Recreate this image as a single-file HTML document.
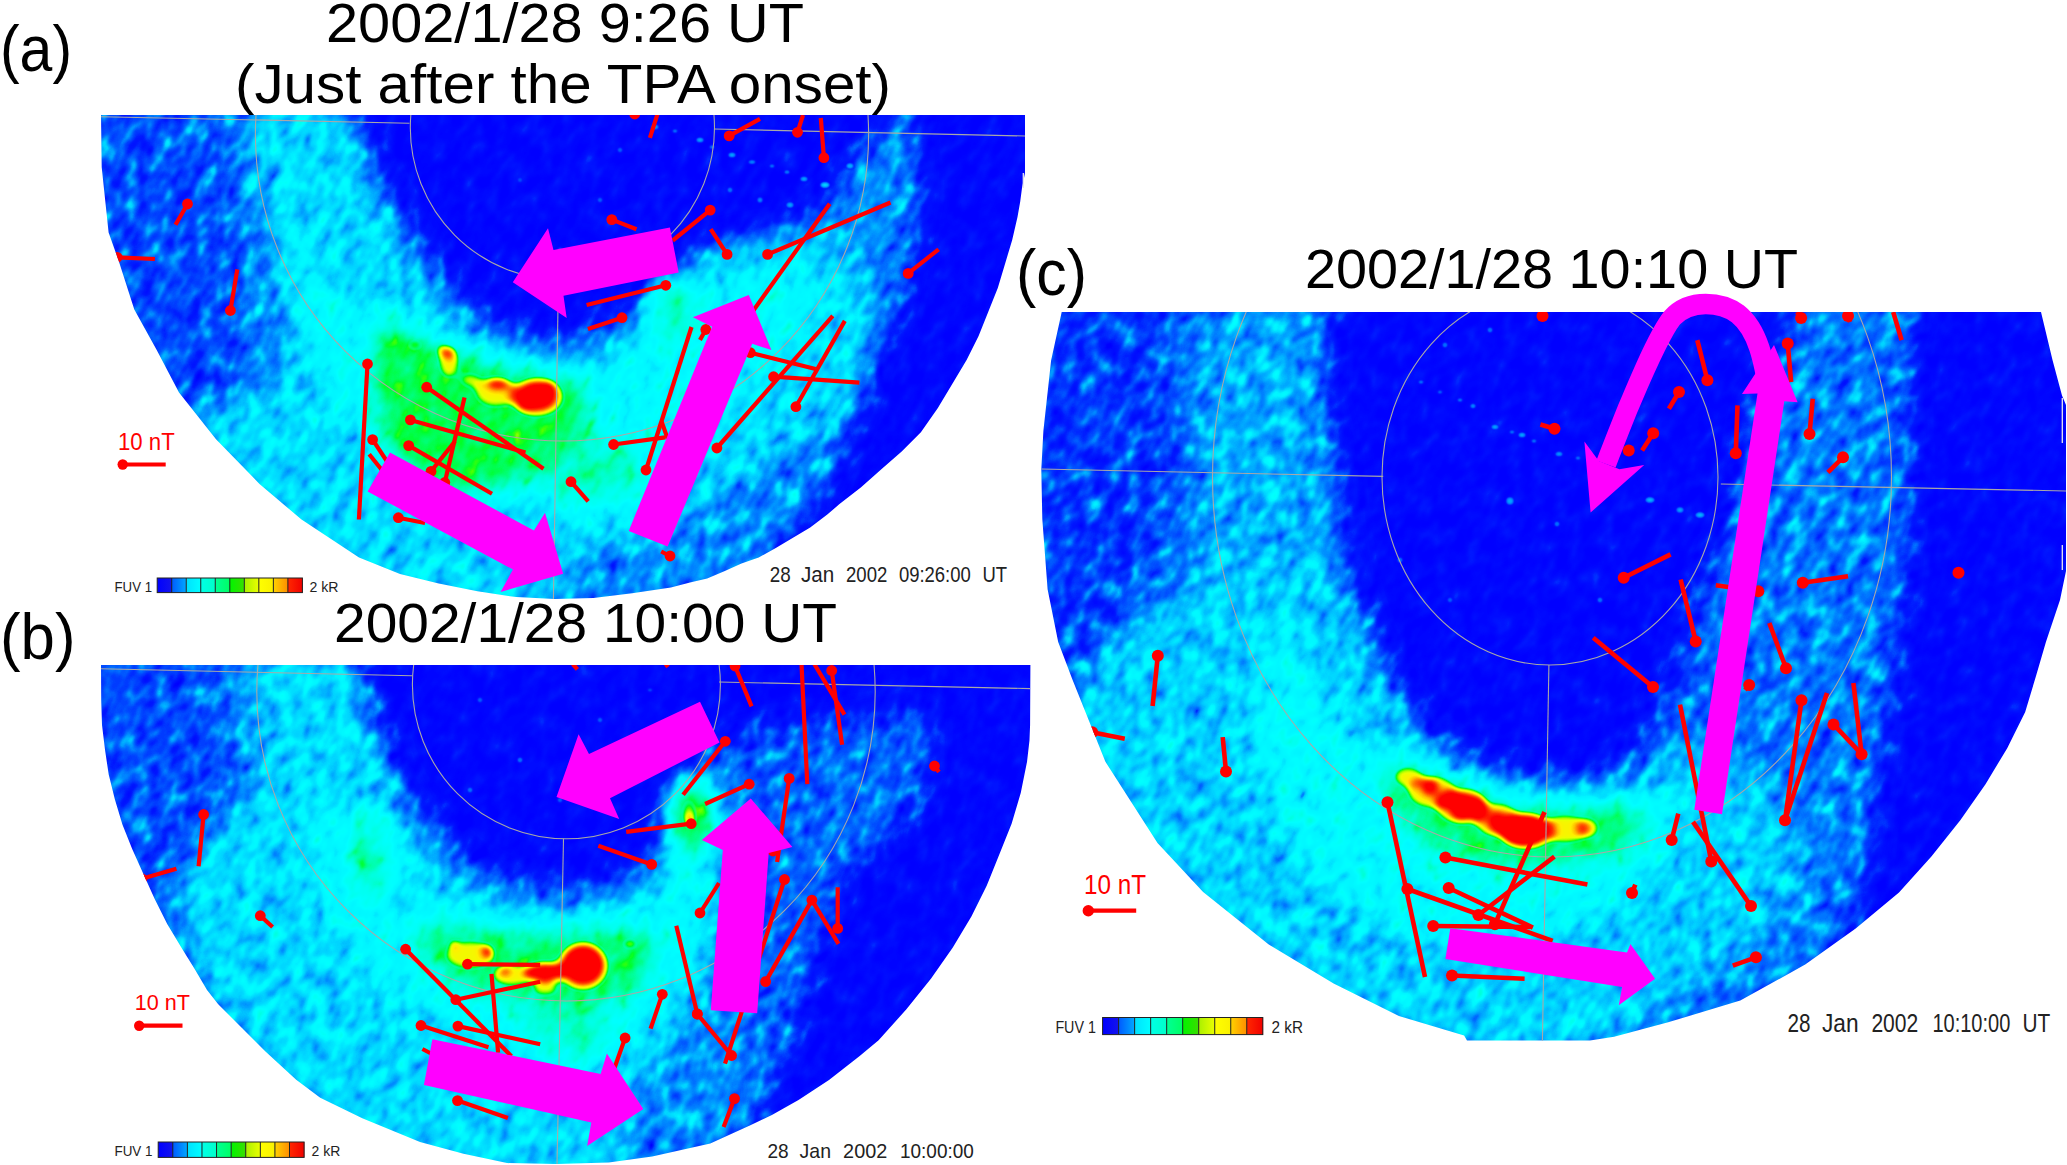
<!DOCTYPE html>
<html><head><meta charset="utf-8"><title>TPA</title><style>
html,body{margin:0;padding:0;background:#fff;overflow:hidden;}
svg{display:block;}
</style></head><body>
<svg width="2067" height="1165" viewBox="0 0 2067 1165">
<defs>
<clipPath id="cA"><polygon points="101.0,115.0 1025.0,115.0 1025.0,173.0 1022.0,188.0 1020.2,201.8 1017.5,217.0 1012.2,240.0 1005.0,264.0 997.8,288.0 988.2,312.0 978.6,336.1 966.6,360.1 952.1,384.2 937.7,408.2 920.9,432.2 901.7,451.4 882.5,468.3 860.8,487.5 839.2,504.3 827.3,514.6 810.2,527.5 793.0,537.8 775.8,548.1 758.7,557.5 741.5,563.5 724.3,571.2 707.2,578.5 690.0,582.4 670.9,587.4 632.2,593.2 593.5,598.0 554.8,599.0 516.1,597.1 477.4,591.3 438.7,583.5 400.0,573.9 359.0,557.6 301.5,519.6 259.5,483.9 216.0,439.3 179.0,392.4 156.7,350.0 134.3,309.6 118.9,261.5 108.6,232.4 101.7,167.2"/></clipPath>
<clipPath id="cB"><polygon points="101.0,665.0 1030.4,665.0 1030.1,724.7 1029.5,740.2 1027.0,761.9 1020.8,792.8 1011.6,823.7 999.2,854.7 986.8,885.6 971.4,916.5 952.8,947.4 931.1,978.4 906.4,1009.3 878.6,1040.2 860.0,1055.7 829.0,1080.0 798.5,1100.0 771.9,1115.0 749.3,1125.8 710.3,1143.5 652.2,1156.6 608.7,1162.4 556.4,1164.0 507.0,1163.1 463.5,1153.7 420.0,1142.1 362.3,1118.2 320.2,1097.8 296.2,1079.8 266.0,1052.0 242.0,1028.0 218.0,1004.0 207.0,989.9 194.5,968.7 182.1,948.8 167.2,923.9 154.7,899.0 143.5,874.2 132.3,849.3 122.4,824.4 114.9,799.5 108.7,774.6 105.0,749.8 102.0,724.9 101.2,700.0"/></clipPath>
<clipPath id="cC"><polygon points="1061.7,312.0 2041.0,312.0 2052.5,360.0 2062.0,395.5 2066.0,405.0 2066.0,571.0 2060.0,600.0 2046.0,641.7 2036.0,676.0 2025.2,712.1 2007.2,748.2 1985.5,784.2 1960.3,820.3 1931.4,856.4 1899.0,892.4 1855.7,928.5 1805.2,964.6 1740.3,1000.6 1668.2,1022.3 1614.1,1036.7 1590.0,1040.4 1467.0,1040.4 1464.1,1035.6 1398.9,1016.0 1333.6,983.4 1268.4,944.3 1203.1,892.1 1157.5,843.1 1105.3,761.6 1072.6,680.0 1058.2,642.1 1047.6,589.3 1042.3,518.9 1041.3,469.6 1043.4,430.8 1051.1,360.4"/></clipPath>
<filter id="fA" filterUnits="userSpaceOnUse" x="-26" y="-152" width="1179" height="1018" color-interpolation-filters="sRGB">
<feGaussianBlur in="SourceGraphic" stdDeviation="12" result="bl"/>
<feTurbulence type="fractalNoise" baseFrequency="0.075 0.048" numOctaves="2" seed="3" result="tn"/>
<feColorMatrix in="tn" type="matrix" values="1 0 0 0 0 1 0 0 0 0 1 0 0 0 0 0 0 0 0 1" result="n0"/>
<feComponentTransfer in="n0" result="n"><feFuncR type="table" tableValues="0 0.3 0.39 0.45 0.5 0.57 0.68 0.84 1"/><feFuncG type="table" tableValues="0 0.3 0.39 0.45 0.5 0.57 0.68 0.84 1"/><feFuncB type="table" tableValues="0 0.3 0.39 0.45 0.5 0.57 0.68 0.84 1"/></feComponentTransfer>
<feComponentTransfer in="bl" result="amp"><feFuncR type="table" tableValues="0.1 0.4 0.48 0.5 0.5 0.48 0.46 0.44 0.42 0.4 0.38 0.35 0.32 0.28 0.25 0.2 0.15 0.1 0.1 0.1 0.1"/><feFuncG type="table" tableValues="0.1 0.4 0.48 0.5 0.5 0.48 0.46 0.44 0.42 0.4 0.38 0.35 0.32 0.28 0.25 0.2 0.15 0.1 0.1 0.1 0.1"/><feFuncB type="table" tableValues="0.1 0.4 0.48 0.5 0.5 0.48 0.46 0.44 0.42 0.4 0.38 0.35 0.32 0.28 0.25 0.2 0.15 0.1 0.1 0.1 0.1"/></feComponentTransfer>
<feComposite in="amp" in2="n" operator="arithmetic" k1="1" k2="-0.5" k3="0" k4="0.5" result="t"/>
<feComposite in="bl" in2="t" operator="arithmetic" k1="0" k2="1" k3="1" k4="-0.5"/>
<feComponentTransfer><feFuncR type="table" tableValues="0.000 0.000 0.000 0.000 0.000 0.000 0.000 0.000 0.000 0.000 0.000 0.000 0.314 0.667 0.922 1.000 1.000 1.000 1.000 1.000 1.000"/><feFuncG type="table" tableValues="0.000 0.098 0.333 0.588 0.824 0.961 1.000 1.000 1.000 1.000 1.000 1.000 1.000 1.000 1.000 0.941 0.745 0.471 0.196 0.000 0.000"/><feFuncB type="table" tableValues="1.000 1.000 1.000 1.000 1.000 1.000 1.000 0.941 0.843 0.667 0.431 0.157 0.000 0.000 0.000 0.000 0.000 0.000 0.000 0.000 0.000"/></feComponentTransfer>
</filter>
<filter id="fB" filterUnits="userSpaceOnUse" x="-30" y="398" width="1191" height="1033" color-interpolation-filters="sRGB">
<feGaussianBlur in="SourceGraphic" stdDeviation="12" result="bl"/>
<feTurbulence type="fractalNoise" baseFrequency="0.075 0.048" numOctaves="2" seed="7" result="tn"/>
<feColorMatrix in="tn" type="matrix" values="1 0 0 0 0 1 0 0 0 0 1 0 0 0 0 0 0 0 0 1" result="n0"/>
<feComponentTransfer in="n0" result="n"><feFuncR type="table" tableValues="0 0.3 0.39 0.45 0.5 0.57 0.68 0.84 1"/><feFuncG type="table" tableValues="0 0.3 0.39 0.45 0.5 0.57 0.68 0.84 1"/><feFuncB type="table" tableValues="0 0.3 0.39 0.45 0.5 0.57 0.68 0.84 1"/></feComponentTransfer>
<feComponentTransfer in="bl" result="amp"><feFuncR type="table" tableValues="0.1 0.4 0.48 0.5 0.5 0.48 0.46 0.44 0.42 0.4 0.38 0.35 0.32 0.28 0.25 0.2 0.15 0.1 0.1 0.1 0.1"/><feFuncG type="table" tableValues="0.1 0.4 0.48 0.5 0.5 0.48 0.46 0.44 0.42 0.4 0.38 0.35 0.32 0.28 0.25 0.2 0.15 0.1 0.1 0.1 0.1"/><feFuncB type="table" tableValues="0.1 0.4 0.48 0.5 0.5 0.48 0.46 0.44 0.42 0.4 0.38 0.35 0.32 0.28 0.25 0.2 0.15 0.1 0.1 0.1 0.1"/></feComponentTransfer>
<feComposite in="amp" in2="n" operator="arithmetic" k1="1" k2="-0.5" k3="0" k4="0.5" result="t"/>
<feComposite in="bl" in2="t" operator="arithmetic" k1="0" k2="1" k3="1" k4="-0.5"/>
<feComponentTransfer><feFuncR type="table" tableValues="0.000 0.000 0.000 0.000 0.000 0.000 0.000 0.000 0.000 0.000 0.000 0.000 0.314 0.667 0.922 1.000 1.000 1.000 1.000 1.000 1.000"/><feFuncG type="table" tableValues="0.000 0.098 0.333 0.588 0.824 0.961 1.000 1.000 1.000 1.000 1.000 1.000 1.000 1.000 1.000 0.941 0.745 0.471 0.196 0.000 0.000"/><feFuncB type="table" tableValues="1.000 1.000 1.000 1.000 1.000 1.000 1.000 0.941 0.843 0.667 0.431 0.157 0.000 0.000 0.000 0.000 0.000 0.000 0.000 0.000 0.000"/></feComponentTransfer>
</filter>
<filter id="fC" filterUnits="userSpaceOnUse" x="860" y="36" width="1388" height="1280" color-interpolation-filters="sRGB">
<feGaussianBlur in="SourceGraphic" stdDeviation="13" result="bl"/>
<feTurbulence type="fractalNoise" baseFrequency="0.075 0.048" numOctaves="2" seed="11" result="tn"/>
<feColorMatrix in="tn" type="matrix" values="1 0 0 0 0 1 0 0 0 0 1 0 0 0 0 0 0 0 0 1" result="n0"/>
<feComponentTransfer in="n0" result="n"><feFuncR type="table" tableValues="0 0.3 0.39 0.45 0.5 0.57 0.68 0.84 1"/><feFuncG type="table" tableValues="0 0.3 0.39 0.45 0.5 0.57 0.68 0.84 1"/><feFuncB type="table" tableValues="0 0.3 0.39 0.45 0.5 0.57 0.68 0.84 1"/></feComponentTransfer>
<feComponentTransfer in="bl" result="amp"><feFuncR type="table" tableValues="0.1 0.4 0.48 0.5 0.5 0.48 0.46 0.44 0.42 0.4 0.38 0.35 0.32 0.28 0.25 0.2 0.15 0.1 0.1 0.1 0.1"/><feFuncG type="table" tableValues="0.1 0.4 0.48 0.5 0.5 0.48 0.46 0.44 0.42 0.4 0.38 0.35 0.32 0.28 0.25 0.2 0.15 0.1 0.1 0.1 0.1"/><feFuncB type="table" tableValues="0.1 0.4 0.48 0.5 0.5 0.48 0.46 0.44 0.42 0.4 0.38 0.35 0.32 0.28 0.25 0.2 0.15 0.1 0.1 0.1 0.1"/></feComponentTransfer>
<feComposite in="amp" in2="n" operator="arithmetic" k1="1" k2="-0.5" k3="0" k4="0.5" result="t"/>
<feComposite in="bl" in2="t" operator="arithmetic" k1="0" k2="1" k3="1" k4="-0.5"/>
<feComponentTransfer><feFuncR type="table" tableValues="0.000 0.000 0.000 0.000 0.000 0.000 0.000 0.000 0.000 0.000 0.000 0.000 0.314 0.667 0.922 1.000 1.000 1.000 1.000 1.000 1.000"/><feFuncG type="table" tableValues="0.000 0.098 0.333 0.588 0.824 0.961 1.000 1.000 1.000 1.000 1.000 1.000 1.000 1.000 1.000 0.941 0.745 0.471 0.196 0.000 0.000"/><feFuncB type="table" tableValues="1.000 1.000 1.000 1.000 1.000 1.000 1.000 0.941 0.843 0.667 0.431 0.157 0.000 0.000 0.000 0.000 0.000 0.000 0.000 0.000 0.000"/></feComponentTransfer>
</filter>
<filter id="fBlob" x="-0.3" y="-0.3" width="1.6" height="1.6" color-interpolation-filters="sRGB">
<feGaussianBlur in="SourceGraphic" stdDeviation="4"/>
<feColorMatrix type="matrix" values="0 0 0 1 0 0 0 0 1 0 0 0 0 1 0 0 0 0 5 -1.75"/>
<feComponentTransfer><feFuncR type="table" tableValues="0.000 0.000 0.000 0.000 0.000 0.000 0.000 0.000 0.000 0.000 0.000 0.000 0.314 0.667 0.922 1.000 1.000 1.000 1.000 1.000 1.000"/><feFuncG type="table" tableValues="0.000 0.098 0.333 0.588 0.824 0.961 1.000 1.000 1.000 1.000 1.000 1.000 1.000 1.000 1.000 0.941 0.745 0.471 0.196 0.000 0.000"/><feFuncB type="table" tableValues="1.000 1.000 1.000 1.000 1.000 1.000 1.000 0.941 0.843 0.667 0.431 0.157 0.000 0.000 0.000 0.000 0.000 0.000 0.000 0.000 0.000"/></feComponentTransfer>
</filter>
<filter id="fSpot" x="-0.5" y="-0.5" width="2" height="2" color-interpolation-filters="sRGB">
<feGaussianBlur in="SourceGraphic" stdDeviation="1.6"/>
<feColorMatrix type="matrix" values="0 0 0 0.3 0 0 0 0 0.3 0 0 0 0 0.3 0 0 0 0 3 0"/>
<feComponentTransfer><feFuncR type="table" tableValues="0.000 0.000 0.000 0.000 0.000 0.000 0.000 0.000 0.000 0.000 0.000 0.000 0.314 0.667 0.922 1.000 1.000 1.000 1.000 1.000 1.000"/><feFuncG type="table" tableValues="0.000 0.098 0.333 0.588 0.824 0.961 1.000 1.000 1.000 1.000 1.000 1.000 1.000 1.000 1.000 0.941 0.745 0.471 0.196 0.000 0.000"/><feFuncB type="table" tableValues="1.000 1.000 1.000 1.000 1.000 1.000 1.000 0.941 0.843 0.667 0.431 0.157 0.000 0.000 0.000 0.000 0.000 0.000 0.000 0.000 0.000"/></feComponentTransfer>
</filter>
</defs>
<rect width="100%" height="100%" fill="#fff"/>
<g clip-path="url(#cA)">
<g transform="rotate(30.0 563.0 357.0)"><g filter="url(#fA)"><g transform="rotate(-30.0 563.0 357.0)"><rect x="41" y="55" width="1044" height="604" fill="rgb(23,23,23)"/>
<path d="M240.0,100.0 C259.2,86.7 328.0,90.0 350.0,100.0 C372.0,110.0 363.7,140.8 372.0,160.0 C380.3,179.2 388.7,197.0 400.0,215.0 C411.3,233.0 426.7,252.2 440.0,268.0 C453.3,283.8 465.0,298.8 480.0,310.0 C495.0,321.2 515.5,330.0 530.0,335.0 C544.5,340.0 555.3,340.2 567.0,340.0 C578.7,339.8 589.5,338.7 600.0,334.0 C610.5,329.3 620.0,320.2 630.0,312.0 C640.0,303.8 648.3,293.3 660.0,285.0 C671.7,276.7 685.0,268.2 700.0,262.0 C715.0,255.8 733.3,253.7 750.0,248.0 C766.7,242.3 785.8,236.8 800.0,228.0 C814.2,219.2 824.7,216.3 835.0,195.0 C845.3,173.7 845.3,115.8 862.0,100.0 C878.7,84.2 925.3,83.3 935.0,100.0 C944.7,116.7 925.8,166.7 920.0,200.0 C914.2,233.3 908.0,271.7 900.0,300.0 C892.0,328.3 879.5,348.3 872.0,370.0 C864.5,391.7 863.7,410.0 855.0,430.0 C846.3,450.0 832.5,470.8 820.0,490.0 C807.5,509.2 795.0,525.0 780.0,545.0 C765.0,565.0 793.3,599.2 730.0,610.0 C666.7,620.8 466.7,620.0 400.0,610.0 C333.3,600.0 351.7,573.3 330.0,550.0 C308.3,526.7 284.2,498.3 270.0,470.0 C255.8,441.7 250.0,411.7 245.0,380.0 C240.0,348.3 241.7,313.3 240.0,280.0 C238.3,246.7 235.0,210.0 235.0,180.0 C235.0,150.0 220.8,113.3 240.0,100.0 Z" fill="rgb(36,36,36)"/>
<path d="M345.0,95.0 C430.2,92.5 781.5,84.2 866.0,95.0 C950.5,105.8 858.7,143.2 852.0,160.0 C845.3,176.8 836.0,185.7 826.0,196.0 C816.0,206.3 804.7,214.3 792.0,222.0 C779.3,229.7 763.3,236.0 750.0,242.0 C736.7,248.0 723.5,253.3 712.0,258.0 C700.5,262.7 690.3,265.5 681.0,270.0 C671.7,274.5 663.8,278.8 656.0,285.0 C648.2,291.2 641.3,300.3 634.0,307.0 C626.7,313.7 619.3,320.5 612.0,325.0 C604.7,329.5 597.5,331.8 590.0,334.0 C582.5,336.2 576.3,338.0 567.0,338.0 C557.7,338.0 545.2,336.7 534.0,334.0 C522.8,331.3 511.5,327.7 500.0,322.0 C488.5,316.3 476.7,311.2 465.0,300.0 C453.3,288.8 441.2,270.8 430.0,255.0 C418.8,239.2 407.7,222.5 398.0,205.0 C388.3,187.5 379.2,165.8 372.0,150.0 C364.8,134.2 359.5,119.2 355.0,110.0 C350.5,100.8 259.8,97.5 345.0,95.0 Z" fill="rgb(3,3,3)"/>
<path d="M928.0,95.0 C953.0,77.5 1046.3,7.5 1070.0,95.0 C1093.7,182.5 1124.2,532.5 1070.0,620.0 C1015.8,707.5 791.7,633.3 745.0,620.0 C698.3,606.7 775.8,563.3 790.0,540.0 C804.2,516.7 817.7,503.3 830.0,480.0 C842.3,456.7 856.3,420.3 864.0,400.0 C871.7,379.7 869.7,373.3 876.0,358.0 C882.3,342.7 894.7,334.3 902.0,308.0 C909.3,281.7 915.7,235.5 920.0,200.0 C924.3,164.5 903.0,112.5 928.0,95.0 Z" fill="rgb(3,3,3)"/>
<path d="M255.0,110.0 C266.7,95.0 317.2,100.0 335.0,110.0 C352.8,120.0 353.5,152.5 362.0,170.0 C370.5,187.5 378.0,199.2 386.0,215.0 C394.0,230.8 401.0,250.0 410.0,265.0 C419.0,280.0 430.0,293.8 440.0,305.0 C450.0,316.2 456.7,324.2 470.0,332.0 C483.3,339.8 503.8,347.3 520.0,352.0 C536.2,356.7 551.7,361.2 567.0,360.0 C582.3,358.8 599.0,353.0 612.0,345.0 C625.0,337.0 635.7,322.0 645.0,312.0 C654.3,302.0 660.5,293.3 668.0,285.0 C675.5,276.7 681.3,268.7 690.0,262.0 C698.7,255.3 708.3,249.5 720.0,245.0 C731.7,240.5 746.7,236.7 760.0,235.0 C773.3,233.3 785.0,231.7 800.0,235.0 C815.0,238.3 838.3,240.8 850.0,255.0 C861.7,269.2 870.0,295.8 870.0,320.0 C870.0,344.2 861.7,380.0 850.0,400.0 C838.3,420.0 818.3,427.0 800.0,440.0 C781.7,453.0 758.3,466.0 740.0,478.0 C721.7,490.0 706.7,502.0 690.0,512.0 C673.3,522.0 658.3,531.3 640.0,538.0 C621.7,544.7 595.8,541.7 580.0,552.0 C564.2,562.3 571.7,589.5 545.0,600.0 C518.3,610.5 455.8,621.7 420.0,615.0 C384.2,608.3 358.3,580.8 330.0,560.0 C301.7,539.2 272.5,513.3 250.0,490.0 C227.5,466.7 198.3,435.0 195.0,420.0 C191.7,405.0 215.0,406.7 230.0,400.0 C245.0,393.3 275.8,396.7 285.0,380.0 C294.2,363.3 288.3,330.0 285.0,300.0 C281.7,270.0 270.0,231.7 265.0,200.0 C260.0,168.3 243.3,125.0 255.0,110.0 Z" fill="rgb(54,54,54)"/>
<path d="M290.0,220.0 C295.8,221.7 314.2,270.8 330.0,290.0 C345.8,309.2 366.7,323.3 385.0,335.0 C403.3,346.7 419.2,352.8 440.0,360.0 C460.8,367.2 488.3,374.7 510.0,378.0 C531.7,381.3 551.7,383.3 570.0,380.0 C588.3,376.7 605.0,367.7 620.0,358.0 C635.0,348.3 646.7,332.5 660.0,322.0 C673.3,311.5 685.0,302.8 700.0,295.0 C715.0,287.2 733.3,279.2 750.0,275.0 C766.7,270.8 788.3,265.8 800.0,270.0 C811.7,274.2 821.7,286.7 820.0,300.0 C818.3,313.3 803.3,333.7 790.0,350.0 C776.7,366.3 756.7,383.0 740.0,398.0 C723.3,413.0 708.3,428.0 690.0,440.0 C671.7,452.0 651.7,461.7 630.0,470.0 C608.3,478.3 585.0,486.7 560.0,490.0 C535.0,493.3 505.0,494.2 480.0,490.0 C455.0,485.8 431.7,476.7 410.0,465.0 C388.3,453.3 366.7,439.2 350.0,420.0 C333.3,400.8 319.2,373.3 310.0,350.0 C300.8,326.7 298.3,301.7 295.0,280.0 C291.7,258.3 284.2,218.3 290.0,220.0 Z" fill="rgb(71,71,71)"/>
<path d="M540.0,440.0 C549.2,430.5 582.5,435.5 600.0,438.0 C617.5,440.5 638.3,445.5 645.0,455.0 C651.7,464.5 649.2,486.7 640.0,495.0 C630.8,503.3 605.8,505.0 590.0,505.0 C574.2,505.0 553.3,505.8 545.0,495.0 C536.7,484.2 530.8,449.5 540.0,440.0 Z" fill="rgb(107,107,107)"/>
<path d="M380.0,322.0 C389.7,311.7 413.3,332.0 430.0,338.0 C446.7,344.0 461.7,352.3 480.0,358.0 C498.3,363.7 523.7,368.7 540.0,372.0 C556.3,375.3 570.0,370.0 578.0,378.0 C586.0,386.0 591.0,407.7 588.0,420.0 C585.0,432.3 571.3,441.7 560.0,452.0 C548.7,462.3 535.0,474.5 520.0,482.0 C505.0,489.5 486.7,497.0 470.0,497.0 C453.3,497.0 433.7,489.5 420.0,482.0 C406.3,474.5 396.0,465.7 388.0,452.0 C380.0,438.3 373.3,421.7 372.0,400.0 C370.7,378.3 370.3,332.3 380.0,322.0 Z" fill="rgb(133,133,133)"/>
<path d="M655.0,285.0 C660.0,277.5 684.2,282.5 690.0,290.0 C695.8,297.5 695.0,322.5 690.0,330.0 C685.0,337.5 665.8,342.5 660.0,335.0 C654.2,327.5 650.0,292.5 655.0,285.0 Z" fill="rgb(117,117,117)"/>
</g></g></g>
<g filter="url(#fSpot)"><ellipse cx="655" cy="127" rx="4" ry="2.5" fill="#fff" fill-opacity="0.6"/><ellipse cx="675" cy="131" rx="3" ry="2" fill="#fff" fill-opacity="0.5"/><ellipse cx="700" cy="140" rx="4" ry="2.5" fill="#fff" fill-opacity="0.6"/><ellipse cx="712" cy="147" rx="3" ry="2" fill="#fff" fill-opacity="0.5"/><ellipse cx="732" cy="155" rx="4" ry="2.5" fill="#fff" fill-opacity="0.6"/><ellipse cx="752" cy="162" rx="4" ry="2" fill="#fff" fill-opacity="0.55"/><ellipse cx="772" cy="166" rx="3" ry="2" fill="#fff" fill-opacity="0.5"/><ellipse cx="787" cy="172" rx="3" ry="2" fill="#fff" fill-opacity="0.55"/><ellipse cx="804" cy="179" rx="4" ry="2.5" fill="#fff" fill-opacity="0.6"/><ellipse cx="825" cy="185" rx="5" ry="3" fill="#fff" fill-opacity="0.7"/><ellipse cx="850" cy="166" rx="4" ry="3" fill="#fff" fill-opacity="0.6"/><ellipse cx="760" cy="200" rx="3" ry="3" fill="#fff" fill-opacity="0.5"/><ellipse cx="790" cy="205" rx="4" ry="3" fill="#fff" fill-opacity="0.55"/><ellipse cx="730" cy="190" rx="3" ry="3" fill="#fff" fill-opacity="0.45"/><ellipse cx="620" cy="150" rx="3" ry="3" fill="#fff" fill-opacity="0.4"/><ellipse cx="600" cy="200" rx="3" ry="3" fill="#fff" fill-opacity="0.4"/><ellipse cx="520" cy="180" rx="3" ry="3" fill="#fff" fill-opacity="0.35"/><ellipse cx="560" cy="250" rx="3" ry="3" fill="#fff" fill-opacity="0.4"/></g>
<g filter="url(#fBlob)"><ellipse cx="496" cy="392" rx="23" ry="17" fill="#fff" fill-opacity="0.72"/>
<ellipse cx="449" cy="362" rx="12" ry="18" fill="#fff" fill-opacity="0.72"/>
<ellipse cx="441" cy="350" rx="7" ry="8" fill="#fff" fill-opacity="0.7"/>
<ellipse cx="470" cy="380" rx="12" ry="9" fill="#fff" fill-opacity="0.68"/>
<ellipse cx="537" cy="397" rx="29" ry="22" fill="#fff" fill-opacity="0.74"/>
<ellipse cx="415" cy="345" rx="10" ry="7" fill="#fff" fill-opacity="0.66"/>
<ellipse cx="537" cy="396" rx="20" ry="15" fill="#fff" fill-opacity="0.98"/>
<ellipse cx="528" cy="404" rx="12" ry="8" fill="#fff" fill-opacity="0.96"/>
<ellipse cx="548" cy="390" rx="9" ry="10" fill="#fff" fill-opacity="0.94"/>
<ellipse cx="498" cy="384" rx="12" ry="6" fill="#fff" fill-opacity="0.92"/>
<ellipse cx="450" cy="354" rx="5" ry="6" fill="#fff" fill-opacity="0.9"/></g>
<g fill="none" stroke="#a8a8a8" stroke-width="1.1">
<ellipse cx="562.4" cy="127.8" rx="152.1" ry="152.1"/>
<ellipse cx="562" cy="134.4" rx="306.6" ry="306.6"/>
<line x1="101" y1="116.7" x2="409.5" y2="123.2"/>
<line x1="714" y1="129" x2="1025" y2="136"/>
<line x1="558.4" y1="280" x2="553.4" y2="600"/>
</g>
<g stroke="#ff0000" stroke-width="4.2" fill="#ff0000">
<line x1="187.5" y1="204" x2="175.5" y2="224.7"/>
<circle cx="187.5" cy="204" r="5.4" stroke="none"/>
<line x1="117.2" y1="257.3" x2="154.9" y2="259"/>
<circle cx="117.2" cy="257.3" r="5.4" stroke="none"/>
<line x1="230.4" y1="310.5" x2="237.3" y2="269.3"/>
<circle cx="230.4" cy="310.5" r="5.4" stroke="none"/>
<line x1="367.5" y1="364" x2="358.9" y2="519.5"/>
<circle cx="367.5" cy="364" r="5.4" stroke="none"/>
<line x1="426.7" y1="387.2" x2="543.5" y2="468.8"/>
<circle cx="426.7" cy="387.2" r="5.4" stroke="none"/>
<line x1="410.4" y1="419.9" x2="525.5" y2="452.5"/>
<circle cx="410.4" cy="419.9" r="5.4" stroke="none"/>
<line x1="444.8" y1="482.5" x2="464.5" y2="397.5"/>
<circle cx="444.8" cy="482.5" r="5.4" stroke="none"/>
<line x1="372.6" y1="439.6" x2="390" y2="466"/>
<circle cx="372.6" cy="439.6" r="5.4" stroke="none"/>
<line x1="369.2" y1="454.2" x2="385" y2="474"/>
<line x1="408.7" y1="445.6" x2="492" y2="493.7"/>
<circle cx="408.7" cy="445.6" r="5.4" stroke="none"/>
<line x1="431" y1="471.4" x2="455" y2="441.3"/>
<circle cx="431" cy="471.4" r="5.4" stroke="none"/>
<line x1="398.4" y1="517.7" x2="425" y2="523"/>
<circle cx="398.4" cy="517.7" r="5.4" stroke="none"/>
<line x1="571" y1="481.7" x2="588.2" y2="501.4"/>
<circle cx="571" cy="481.7" r="5.4" stroke="none"/>
<line x1="611.8" y1="219.6" x2="636.5" y2="229.2"/>
<circle cx="611.8" cy="219.6" r="5.4" stroke="none"/>
<line x1="710.2" y1="210.1" x2="672.7" y2="240.5"/>
<circle cx="710.2" cy="210.1" r="5.4" stroke="none"/>
<line x1="727.1" y1="254.4" x2="710.7" y2="229.1"/>
<circle cx="727.1" cy="254.4" r="5.4" stroke="none"/>
<line x1="767.6" y1="254.4" x2="890.5" y2="202.5"/>
<circle cx="767.6" cy="254.4" r="5.4" stroke="none"/>
<line x1="748" y1="318" x2="829.7" y2="203.8"/>
<circle cx="748" cy="318" r="5.4" stroke="none"/>
<line x1="665.8" y1="285.3" x2="586.6" y2="305"/>
<circle cx="665.8" cy="285.3" r="5.4" stroke="none"/>
<line x1="622" y1="317.7" x2="587.9" y2="329.1"/>
<circle cx="622" cy="317.7" r="5.4" stroke="none"/>
<line x1="705.8" y1="329.5" x2="700" y2="340"/>
<circle cx="705.8" cy="329.5" r="5.4" stroke="none"/>
<line x1="646" y1="470" x2="691.5" y2="327"/>
<circle cx="646" cy="470" r="5.4" stroke="none"/>
<line x1="613.6" y1="444.5" x2="665.2" y2="437.3"/>
<circle cx="613.6" cy="444.5" r="5.4" stroke="none"/>
<line x1="661.6" y1="421.7" x2="667.6" y2="438.5"/>
<line x1="716.9" y1="448" x2="832.8" y2="315.8"/>
<circle cx="716.9" cy="448" r="5.4" stroke="none"/>
<line x1="795.9" y1="406.7" x2="844.8" y2="320.9"/>
<circle cx="795.9" cy="406.7" r="5.4" stroke="none"/>
<line x1="750.4" y1="352.7" x2="815.6" y2="369"/>
<circle cx="750.4" cy="352.7" r="5.4" stroke="none"/>
<line x1="773.6" y1="376.7" x2="859.4" y2="382.7"/>
<circle cx="773.6" cy="376.7" r="5.4" stroke="none"/>
<line x1="908.2" y1="273.4" x2="938.6" y2="249.3"/>
<circle cx="908.2" cy="273.4" r="5.4" stroke="none"/>
<circle cx="634.7" cy="114" r="5.4" stroke="none"/>
<line x1="657.5" y1="114" x2="649.9" y2="137.9"/>
<line x1="729.2" y1="135.9" x2="760" y2="118.9"/>
<circle cx="729.2" cy="135.9" r="5.4" stroke="none"/>
<line x1="797.5" y1="132.3" x2="803" y2="115.1"/>
<circle cx="797.5" cy="132.3" r="5.4" stroke="none"/>
<line x1="823.9" y1="157.7" x2="820.8" y2="118"/>
<circle cx="823.9" cy="157.7" r="5.4" stroke="none"/>
<line x1="670" y1="556" x2="661.2" y2="551.5"/>
<circle cx="670" cy="556" r="5.4" stroke="none"/>
</g>
</g>
<g clip-path="url(#cB)">
<g transform="rotate(30.0 565.7 914.5)"><g filter="url(#fB)"><g transform="rotate(-30.0 565.7 914.5)"><rect x="41" y="605" width="1049.4" height="619" fill="rgb(23,23,23)"/>
<path d="M230.0,650.0 C252.8,625.0 347.0,641.7 372.0,650.0 C397.0,658.3 375.3,681.7 380.0,700.0 C384.7,718.3 391.7,743.3 400.0,760.0 C408.3,776.7 416.7,788.3 430.0,800.0 C443.3,811.7 461.7,822.5 480.0,830.0 C498.3,837.5 520.0,841.7 540.0,845.0 C560.0,848.3 581.7,850.8 600.0,850.0 C618.3,849.2 638.3,848.3 650.0,840.0 C661.7,831.7 663.3,811.7 670.0,800.0 C676.7,788.3 681.7,776.7 690.0,770.0 C698.3,763.3 711.7,755.0 720.0,760.0 C728.3,765.0 735.8,781.7 740.0,800.0 C744.2,818.3 745.0,846.7 745.0,870.0 C745.0,893.3 737.5,918.3 740.0,940.0 C742.5,961.7 756.7,970.0 760.0,1000.0 C763.3,1030.0 763.3,1090.8 760.0,1120.0 C756.7,1149.2 796.7,1165.8 740.0,1175.0 C683.3,1184.2 488.3,1187.5 420.0,1175.0 C351.7,1162.5 355.0,1129.2 330.0,1100.0 C305.0,1070.8 284.2,1033.3 270.0,1000.0 C255.8,966.7 250.8,933.3 245.0,900.0 C239.2,866.7 237.5,841.7 235.0,800.0 C232.5,758.3 207.2,675.0 230.0,650.0 Z" fill="rgb(36,36,36)"/>
<path d="M740.0,745.0 C749.2,734.2 776.7,739.2 800.0,735.0 C823.3,730.8 858.3,725.8 880.0,720.0 C901.7,714.2 922.5,688.3 930.0,700.0 C937.5,711.7 933.3,765.0 925.0,790.0 C916.7,815.0 892.5,836.5 880.0,850.0 C867.5,863.5 860.8,852.8 850.0,871.0 C839.2,889.2 825.0,929.5 815.0,959.0 C805.0,988.5 799.2,1021.2 790.0,1048.0 C780.8,1074.8 767.5,1128.0 760.0,1120.0 C752.5,1112.0 748.3,1036.7 745.0,1000.0 C741.7,963.3 740.0,933.3 740.0,900.0 C740.0,866.7 745.0,825.8 745.0,800.0 C745.0,774.2 730.8,755.8 740.0,745.0 Z" fill="rgb(28,28,28)"/>
<path d="M368.0,650.0 C459.7,636.7 841.0,641.7 935.0,650.0 C1029.0,658.3 941.2,689.7 932.0,700.0 C922.8,710.3 902.0,708.3 880.0,712.0 C858.0,715.7 823.3,718.7 800.0,722.0 C776.7,725.3 755.8,726.0 740.0,732.0 C724.2,738.0 714.2,748.3 705.0,758.0 C695.8,767.7 690.8,778.0 685.0,790.0 C679.2,802.0 676.7,818.0 670.0,830.0 C663.3,842.0 656.7,853.7 645.0,862.0 C633.3,870.3 614.2,876.2 600.0,880.0 C585.8,883.8 575.0,885.3 560.0,885.0 C545.0,884.7 525.0,882.2 510.0,878.0 C495.0,873.8 482.5,868.8 470.0,860.0 C457.5,851.2 445.8,837.5 435.0,825.0 C424.2,812.5 413.3,800.8 405.0,785.0 C396.7,769.2 391.2,752.5 385.0,730.0 C378.8,707.5 276.3,663.3 368.0,650.0 Z" fill="rgb(3,3,3)"/>
<path d="M935.0,650.0 C960.0,636.7 1055.8,562.5 1080.0,650.0 C1104.2,737.5 1136.7,1087.5 1080.0,1175.0 C1023.3,1262.5 793.3,1184.2 740.0,1175.0 C686.7,1165.8 751.7,1141.2 760.0,1120.0 C768.3,1098.8 780.8,1074.8 790.0,1048.0 C799.2,1021.2 805.0,988.5 815.0,959.0 C825.0,929.5 839.2,889.2 850.0,871.0 C860.8,852.8 867.5,863.5 880.0,850.0 C892.5,836.5 916.7,810.0 925.0,790.0 C933.3,770.0 928.3,753.3 930.0,730.0 C931.7,706.7 910.0,663.3 935.0,650.0 Z" fill="rgb(3,3,3)"/>
<path d="M262.0,665.0 C277.5,647.5 337.3,654.2 355.0,665.0 C372.7,675.8 362.2,709.2 368.0,730.0 C373.8,750.8 381.3,771.7 390.0,790.0 C398.7,808.3 408.3,825.0 420.0,840.0 C431.7,855.0 445.0,869.2 460.0,880.0 C475.0,890.8 493.3,900.0 510.0,905.0 C526.7,910.0 541.7,910.0 560.0,910.0 C578.3,910.0 603.3,910.0 620.0,905.0 C636.7,900.0 650.0,890.8 660.0,880.0 C670.0,869.2 674.7,853.3 680.0,840.0 C685.3,826.7 686.7,806.7 692.0,800.0 C697.3,793.3 707.7,791.7 712.0,800.0 C716.3,808.3 718.0,830.0 718.0,850.0 C718.0,870.0 715.0,898.3 712.0,920.0 C709.0,941.7 705.3,961.7 700.0,980.0 C694.7,998.3 688.3,1015.0 680.0,1030.0 C671.7,1045.0 659.2,1055.8 650.0,1070.0 C640.8,1084.2 633.3,1097.5 625.0,1115.0 C616.7,1132.5 637.5,1165.0 600.0,1175.0 C562.5,1185.0 450.0,1187.5 400.0,1175.0 C350.0,1162.5 327.5,1124.2 300.0,1100.0 C272.5,1075.8 253.3,1055.0 235.0,1030.0 C216.7,1005.0 200.0,973.3 190.0,950.0 C180.0,926.7 170.8,910.0 175.0,890.0 C179.2,870.0 200.5,850.0 215.0,830.0 C229.5,810.0 254.2,797.5 262.0,770.0 C269.8,742.5 246.5,682.5 262.0,665.0 Z" fill="rgb(54,54,54)"/>
<path d="M305.0,770.0 C308.3,767.5 323.3,824.7 335.0,845.0 C346.7,865.3 359.2,879.5 375.0,892.0 C390.8,904.5 409.2,912.8 430.0,920.0 C450.8,927.2 476.7,932.5 500.0,935.0 C523.3,937.5 548.3,937.2 570.0,935.0 C591.7,932.8 613.0,927.8 630.0,922.0 C647.0,916.2 660.3,907.0 672.0,900.0 C683.7,893.0 694.5,873.3 700.0,880.0 C705.5,886.7 708.3,921.7 705.0,940.0 C701.7,958.3 692.5,975.0 680.0,990.0 C667.5,1005.0 650.0,1020.0 630.0,1030.0 C610.0,1040.0 585.0,1048.3 560.0,1050.0 C535.0,1051.7 505.0,1048.3 480.0,1040.0 C455.0,1031.7 431.7,1016.7 410.0,1000.0 C388.3,983.3 365.8,963.3 350.0,940.0 C334.2,916.7 322.5,888.3 315.0,860.0 C307.5,831.7 301.7,772.5 305.0,770.0 Z" fill="rgb(71,71,71)"/>
<path d="M428.0,918.0 C438.0,914.7 461.3,923.0 480.0,925.0 C498.7,927.0 520.0,930.0 540.0,930.0 C560.0,930.0 582.5,925.3 600.0,925.0 C617.5,924.7 635.8,922.2 645.0,928.0 C654.2,933.8 658.3,948.0 655.0,960.0 C651.7,972.0 640.8,992.0 625.0,1000.0 C609.2,1008.0 582.5,1008.7 560.0,1008.0 C537.5,1007.3 510.0,1001.5 490.0,996.0 C470.0,990.5 451.7,983.5 440.0,975.0 C428.3,966.5 422.0,954.5 420.0,945.0 C418.0,935.5 418.0,921.3 428.0,918.0 Z" fill="rgb(128,128,128)"/>
<path d="M676.0,790.0 C681.3,775.8 694.0,773.3 700.0,775.0 C706.0,776.7 711.2,784.2 712.0,800.0 C712.8,815.8 708.7,848.3 705.0,870.0 C701.3,891.7 695.5,920.8 690.0,930.0 C684.5,939.2 675.7,936.7 672.0,925.0 C668.3,913.3 667.3,882.5 668.0,860.0 C668.7,837.5 670.7,804.2 676.0,790.0 Z" fill="rgb(76,76,76)"/>
<path d="M525.0,1015.0 C533.3,1007.3 575.0,1007.8 590.0,1012.0 C605.0,1016.2 615.0,1031.7 615.0,1040.0 C615.0,1048.3 602.5,1059.0 590.0,1062.0 C577.5,1065.0 550.8,1065.8 540.0,1058.0 C529.2,1050.2 516.7,1022.7 525.0,1015.0 Z" fill="rgb(102,102,102)"/>
<path d="M676.0,790.0 C680.3,783.3 692.3,781.3 698.0,785.0 C703.7,788.7 708.7,802.5 710.0,812.0 C711.3,821.5 710.0,835.7 706.0,842.0 C702.0,848.3 691.7,852.8 686.0,850.0 C680.3,847.2 673.7,835.0 672.0,825.0 C670.3,815.0 671.7,796.7 676.0,790.0 Z" fill="rgb(158,158,158)"/>
<path d="M350.0,820.0 C354.2,814.2 368.3,808.3 375.0,815.0 C381.7,821.7 388.3,846.7 390.0,860.0 C391.7,873.3 390.0,890.0 385.0,895.0 C380.0,900.0 365.8,897.5 360.0,890.0 C354.2,882.5 351.7,861.7 350.0,850.0 C348.3,838.3 345.8,825.8 350.0,820.0 Z" fill="rgb(115,115,115)"/>
</g></g></g>
<g filter="url(#fSpot)"><ellipse cx="480" cy="700" rx="3" ry="3" fill="#fff" fill-opacity="0.4"/><ellipse cx="520" cy="760" rx="3" ry="3" fill="#fff" fill-opacity="0.45"/><ellipse cx="600" cy="720" rx="3" ry="3" fill="#fff" fill-opacity="0.4"/><ellipse cx="650" cy="690" rx="3" ry="2" fill="#fff" fill-opacity="0.4"/><ellipse cx="560" cy="800" rx="3" ry="3" fill="#fff" fill-opacity="0.4"/><ellipse cx="470" cy="790" rx="3" ry="3" fill="#fff" fill-opacity="0.45"/></g>
<g filter="url(#fBlob)"><ellipse cx="470" cy="955" rx="27" ry="16" fill="#fff" fill-opacity="0.72"/>
<ellipse cx="512" cy="975" rx="22" ry="13" fill="#fff" fill-opacity="0.72"/>
<ellipse cx="583" cy="966" rx="28" ry="27" fill="#fff" fill-opacity="0.74"/>
<ellipse cx="630" cy="944" rx="10" ry="7" fill="#fff" fill-opacity="0.7"/>
<ellipse cx="545" cy="990" rx="15" ry="8" fill="#fff" fill-opacity="0.68"/>
<ellipse cx="583" cy="965" rx="21" ry="20" fill="#fff" fill-opacity="0.98"/>
<ellipse cx="545" cy="972" rx="22" ry="12" fill="#fff" fill-opacity="0.97"/>
<ellipse cx="453" cy="943" rx="5" ry="5" fill="#fff" fill-opacity="0.9"/>
<ellipse cx="488" cy="951" rx="7" ry="8" fill="#fff" fill-opacity="0.9"/>
<ellipse cx="505" cy="971" rx="6" ry="5" fill="#fff" fill-opacity="0.88"/>
<ellipse cx="690" cy="822" rx="6" ry="10" fill="#fff" fill-opacity="0.8"/>
<ellipse cx="689" cy="812" rx="9" ry="15" fill="#fff" fill-opacity="0.6"/></g>
<g fill="none" stroke="#a8a8a8" stroke-width="1.1">
<ellipse cx="566.4" cy="684.8" rx="154" ry="154"/>
<ellipse cx="566" cy="691.8" rx="309.2" ry="309.2"/>
<line x1="101" y1="668.8" x2="412.4" y2="675.8"/>
<line x1="719" y1="682" x2="1030.4" y2="688.6"/>
<line x1="563.5" y1="838.8" x2="557" y2="1166"/>
</g>
<g stroke="#ff0000" stroke-width="4.2" fill="#ff0000">
<line x1="203.6" y1="814.5" x2="198.6" y2="866.3"/>
<circle cx="203.6" cy="814.5" r="5.4" stroke="none"/>
<line x1="141.9" y1="878.7" x2="176.4" y2="868.8"/>
<circle cx="141.9" cy="878.7" r="5.4" stroke="none"/>
<line x1="260.3" y1="915.7" x2="272.6" y2="927"/>
<circle cx="260.3" cy="915.7" r="5.4" stroke="none"/>
<line x1="735" y1="666" x2="751.6" y2="706.4"/>
<circle cx="735" cy="666" r="5.4" stroke="none"/>
<line x1="801.5" y1="664" x2="807.3" y2="784.2"/>
<line x1="831.7" y1="670.5" x2="842.1" y2="744.8"/>
<circle cx="831.7" cy="670.5" r="5.4" stroke="none"/>
<line x1="814.3" y1="664" x2="844.5" y2="714.6"/>
<line x1="572.8" y1="664" x2="577.4" y2="669.3"/>
<line x1="665.6" y1="664" x2="668" y2="667"/>
<line x1="725.3" y1="741.3" x2="683.1" y2="794.7"/>
<circle cx="725.3" cy="741.3" r="5.4" stroke="none"/>
<line x1="749.2" y1="784.2" x2="705.1" y2="804"/>
<circle cx="749.2" cy="784.2" r="5.4" stroke="none"/>
<line x1="691.2" y1="823.7" x2="626.2" y2="831.9"/>
<circle cx="691.2" cy="823.7" r="5.4" stroke="none"/>
<line x1="651.7" y1="864.4" x2="598.3" y2="845.8"/>
<circle cx="651.7" cy="864.4" r="5.4" stroke="none"/>
<line x1="789.2" y1="778.4" x2="777.1" y2="862"/>
<circle cx="789.2" cy="778.4" r="5.4" stroke="none"/>
<circle cx="773" cy="851" r="5.4" stroke="none"/>
<line x1="784.5" y1="879.5" x2="725" y2="1063.6"/>
<circle cx="784.5" cy="879.5" r="5.4" stroke="none"/>
<circle cx="731.6" cy="1055.5" r="5.4" stroke="none"/>
<line x1="700" y1="913" x2="719" y2="883"/>
<circle cx="700" cy="913" r="5.4" stroke="none"/>
<line x1="697.3" y1="1014" x2="676.3" y2="925.8"/>
<circle cx="697.3" cy="1014" r="5.4" stroke="none"/>
<line x1="697.3" y1="1014" x2="731.6" y2="1055.5"/>
<circle cx="697.3" cy="1014" r="5.4" stroke="none"/>
<line x1="811.9" y1="900.1" x2="838.5" y2="943.9"/>
<circle cx="811.9" cy="900.1" r="5.4" stroke="none"/>
<line x1="765.6" y1="981.6" x2="811.9" y2="900.1"/>
<circle cx="765.6" cy="981.6" r="5.4" stroke="none"/>
<line x1="837.7" y1="928.4" x2="837.7" y2="887.2"/>
<circle cx="837.7" cy="928.4" r="5.4" stroke="none"/>
<line x1="662.3" y1="994.3" x2="650.6" y2="1028.6"/>
<circle cx="662.3" cy="994.3" r="5.4" stroke="none"/>
<line x1="625.1" y1="1038" x2="612" y2="1075"/>
<circle cx="625.1" cy="1038" r="5.4" stroke="none"/>
<line x1="734.5" y1="1098.6" x2="723.6" y2="1127"/>
<circle cx="734.5" cy="1098.6" r="5.4" stroke="none"/>
<line x1="405.6" y1="949.2" x2="511.4" y2="1056.2"/>
<circle cx="405.6" cy="949.2" r="5.4" stroke="none"/>
<line x1="467.5" y1="964.2" x2="540.2" y2="964.8"/>
<circle cx="467.5" cy="964.2" r="5.4" stroke="none"/>
<line x1="455.8" y1="999.7" x2="540.2" y2="981.7"/>
<circle cx="455.8" cy="999.7" r="5.4" stroke="none"/>
<line x1="491.5" y1="973.9" x2="498.1" y2="1052.6"/>
<line x1="421" y1="1025.5" x2="488.5" y2="1047.2"/>
<circle cx="421" cy="1025.5" r="5.4" stroke="none"/>
<line x1="457.9" y1="1026.1" x2="540.2" y2="1044.2"/>
<circle cx="457.9" cy="1026.1" r="5.4" stroke="none"/>
<line x1="422.4" y1="1049" x2="432" y2="1054"/>
<line x1="457.5" y1="1100.6" x2="507.9" y2="1117.9"/>
<circle cx="457.5" cy="1100.6" r="5.4" stroke="none"/>
<line x1="934.5" y1="766" x2="939" y2="772"/>
<circle cx="934.5" cy="766" r="5.4" stroke="none"/>
</g>
</g>
<g clip-path="url(#cC)">
<g transform="rotate(30.0 1553.7 676.2)"><g filter="url(#fC)"><g transform="rotate(-30.0 1553.7 676.2)"><rect x="981.3" y="252" width="1144.7" height="848.4000000000001" fill="rgb(19,19,19)"/>
<path d="M1180.0,300.0 C1205.8,270.0 1310.0,275.0 1335.0,300.0 C1360.0,325.0 1328.3,406.7 1330.0,450.0 C1331.7,493.3 1335.8,525.0 1345.0,560.0 C1354.2,595.0 1369.2,630.0 1385.0,660.0 C1400.8,690.0 1417.5,720.8 1440.0,740.0 C1462.5,759.2 1493.3,770.0 1520.0,775.0 C1546.7,780.0 1578.3,775.8 1600.0,770.0 C1621.7,764.2 1636.7,751.7 1650.0,740.0 C1663.3,728.3 1668.3,703.3 1680.0,700.0 C1691.7,696.7 1700.0,710.0 1720.0,720.0 C1740.0,730.0 1776.7,746.7 1800.0,760.0 C1823.3,773.3 1850.0,780.0 1860.0,800.0 C1870.0,820.0 1870.0,850.0 1860.0,880.0 C1850.0,910.0 1826.7,951.7 1800.0,980.0 C1773.3,1008.3 1758.3,1038.3 1700.0,1050.0 C1641.7,1061.7 1516.7,1058.3 1450.0,1050.0 C1383.3,1041.7 1345.0,1021.7 1300.0,1000.0 C1255.0,978.3 1216.7,953.3 1180.0,920.0 C1143.3,886.7 1091.7,845.0 1080.0,800.0 C1068.3,755.0 1093.3,703.3 1110.0,650.0 C1126.7,596.7 1168.3,538.3 1180.0,480.0 C1191.7,421.7 1154.2,330.0 1180.0,300.0 Z" fill="rgb(33,33,33)"/>
<path d="M1700.0,650.0 C1700.0,616.7 1712.5,558.3 1720.0,520.0 C1727.5,481.7 1738.3,456.7 1745.0,420.0 C1751.7,383.3 1730.0,320.0 1760.0,300.0 C1790.0,280.0 1899.2,275.0 1925.0,300.0 C1950.8,325.0 1919.2,400.0 1915.0,450.0 C1910.8,500.0 1905.8,550.0 1900.0,600.0 C1894.2,650.0 1886.7,716.7 1880.0,750.0 C1873.3,783.3 1875.0,798.3 1860.0,800.0 C1845.0,801.7 1813.3,773.3 1790.0,760.0 C1766.7,746.7 1735.0,738.3 1720.0,720.0 C1705.0,701.7 1700.0,683.3 1700.0,650.0 Z" fill="rgb(32,32,32)"/>
<path d="M1345.0,300.0 C1414.5,271.7 1694.5,280.0 1762.0,300.0 C1829.5,320.0 1755.3,383.3 1750.0,420.0 C1744.7,456.7 1739.7,490.0 1730.0,520.0 C1720.3,550.0 1702.8,573.3 1692.0,600.0 C1681.2,626.7 1673.7,656.7 1665.0,680.0 C1656.3,703.3 1650.8,725.3 1640.0,740.0 C1629.2,754.7 1620.0,762.7 1600.0,768.0 C1580.0,773.3 1546.7,776.7 1520.0,772.0 C1493.3,767.3 1460.8,755.3 1440.0,740.0 C1419.2,724.7 1408.3,705.0 1395.0,680.0 C1381.7,655.0 1368.3,625.0 1360.0,590.0 C1351.7,555.0 1347.5,518.3 1345.0,470.0 C1342.5,421.7 1275.5,328.3 1345.0,300.0 Z" fill="rgb(3,3,3)"/>
<path d="M1925.0,300.0 C1953.3,266.7 2054.2,175.0 2080.0,300.0 C2105.8,425.0 2133.3,925.0 2080.0,1050.0 C2026.7,1175.0 1801.7,1060.0 1760.0,1050.0 C1718.3,1040.0 1812.5,1015.0 1830.0,990.0 C1847.5,965.0 1856.7,931.7 1865.0,900.0 C1873.3,868.3 1874.2,841.7 1880.0,800.0 C1885.8,758.3 1895.0,700.0 1900.0,650.0 C1905.0,600.0 1905.8,558.3 1910.0,500.0 C1914.2,441.7 1896.7,333.3 1925.0,300.0 Z" fill="rgb(3,3,3)"/>
<path d="M1230.0,520.0 C1250.0,506.7 1285.0,513.3 1300.0,520.0 C1315.0,526.7 1312.5,546.7 1320.0,560.0 C1327.5,573.3 1334.2,580.0 1345.0,600.0 C1355.8,620.0 1369.2,655.0 1385.0,680.0 C1400.8,705.0 1417.5,731.7 1440.0,750.0 C1462.5,768.3 1493.3,782.5 1520.0,790.0 C1546.7,797.5 1578.3,797.5 1600.0,795.0 C1621.7,792.5 1635.0,784.2 1650.0,775.0 C1665.0,765.8 1676.7,742.5 1690.0,740.0 C1703.3,737.5 1715.0,750.0 1730.0,760.0 C1745.0,770.0 1768.3,783.3 1780.0,800.0 C1791.7,816.7 1803.3,836.7 1800.0,860.0 C1796.7,883.3 1780.0,918.3 1760.0,940.0 C1740.0,961.7 1706.7,971.7 1680.0,990.0 C1653.3,1008.3 1643.3,1040.0 1600.0,1050.0 C1556.7,1060.0 1470.0,1058.3 1420.0,1050.0 C1370.0,1041.7 1340.0,1020.0 1300.0,1000.0 C1260.0,980.0 1213.3,958.3 1180.0,930.0 C1146.7,901.7 1118.3,865.0 1100.0,830.0 C1081.7,795.0 1068.3,751.7 1070.0,720.0 C1071.7,688.3 1091.7,660.0 1110.0,640.0 C1128.3,620.0 1160.0,620.0 1180.0,600.0 C1200.0,580.0 1210.0,533.3 1230.0,520.0 Z" fill="rgb(51,51,51)"/>
<path d="M1215.0,330.0 C1235.0,310.0 1302.5,310.0 1320.0,330.0 C1337.5,350.0 1317.5,415.0 1320.0,450.0 C1322.5,485.0 1340.0,521.7 1335.0,540.0 C1330.0,558.3 1309.2,556.7 1290.0,560.0 C1270.8,563.3 1235.0,578.3 1220.0,560.0 C1205.0,541.7 1200.8,488.3 1200.0,450.0 C1199.2,411.7 1195.0,350.0 1215.0,330.0 Z" fill="rgb(43,43,43)"/>
<path d="M1280.0,620.0 C1289.7,623.3 1303.3,676.7 1320.0,700.0 C1336.7,723.3 1360.0,745.0 1380.0,760.0 C1400.0,775.0 1416.7,780.8 1440.0,790.0 C1463.3,799.2 1493.3,810.8 1520.0,815.0 C1546.7,819.2 1578.3,817.5 1600.0,815.0 C1621.7,812.5 1636.7,802.5 1650.0,800.0 C1663.3,797.5 1676.7,791.7 1680.0,800.0 C1683.3,808.3 1680.0,833.3 1670.0,850.0 C1660.0,866.7 1641.7,885.8 1620.0,900.0 C1598.3,914.2 1568.3,928.3 1540.0,935.0 C1511.7,941.7 1478.3,944.2 1450.0,940.0 C1421.7,935.8 1395.0,925.0 1370.0,910.0 C1345.0,895.0 1318.3,875.0 1300.0,850.0 C1281.7,825.0 1266.3,788.3 1260.0,760.0 C1253.7,731.7 1258.7,703.3 1262.0,680.0 C1265.3,656.7 1270.3,616.7 1280.0,620.0 Z" fill="rgb(71,71,71)"/>
<path d="M1385.0,762.0 C1393.3,757.8 1420.8,769.5 1440.0,775.0 C1459.2,780.5 1480.0,790.0 1500.0,795.0 C1520.0,800.0 1540.0,804.2 1560.0,805.0 C1580.0,805.8 1605.8,798.3 1620.0,800.0 C1634.2,801.7 1643.3,806.7 1645.0,815.0 C1646.7,823.3 1644.2,841.2 1630.0,850.0 C1615.8,858.8 1585.0,865.5 1560.0,868.0 C1535.0,870.5 1503.3,869.7 1480.0,865.0 C1456.7,860.3 1435.0,850.8 1420.0,840.0 C1405.0,829.2 1395.8,813.0 1390.0,800.0 C1384.2,787.0 1376.7,766.2 1385.0,762.0 Z" fill="rgb(128,128,128)"/>
</g></g></g>
<g filter="url(#fSpot)"><ellipse cx="1421" cy="382" rx="3" ry="2" fill="#fff" fill-opacity="0.5"/><ellipse cx="1440" cy="392" rx="3" ry="2" fill="#fff" fill-opacity="0.45"/><ellipse cx="1460" cy="400" rx="3" ry="2" fill="#fff" fill-opacity="0.5"/><ellipse cx="1473" cy="406" rx="3" ry="2.5" fill="#fff" fill-opacity="0.55"/><ellipse cx="1495" cy="427" rx="4" ry="2.5" fill="#fff" fill-opacity="0.6"/><ellipse cx="1512" cy="432" rx="3" ry="2" fill="#fff" fill-opacity="0.5"/><ellipse cx="1522" cy="435" rx="4" ry="2.5" fill="#fff" fill-opacity="0.6"/><ellipse cx="1534" cy="441" rx="3" ry="2" fill="#fff" fill-opacity="0.5"/><ellipse cx="1559" cy="454" rx="4" ry="2.5" fill="#fff" fill-opacity="0.55"/><ellipse cx="1578" cy="458" rx="3" ry="2" fill="#fff" fill-opacity="0.5"/><ellipse cx="1510" cy="501" rx="4" ry="4" fill="#fff" fill-opacity="0.55"/><ellipse cx="1557" cy="524" rx="3" ry="3" fill="#fff" fill-opacity="0.45"/><ellipse cx="1650" cy="500" rx="5" ry="3" fill="#fff" fill-opacity="0.6"/><ellipse cx="1680" cy="510" rx="4" ry="3" fill="#fff" fill-opacity="0.55"/><ellipse cx="1700" cy="515" rx="5" ry="3" fill="#fff" fill-opacity="0.6"/><ellipse cx="1445" cy="345" rx="3" ry="3" fill="#fff" fill-opacity="0.45"/><ellipse cx="1490" cy="330" rx="3" ry="3" fill="#fff" fill-opacity="0.45"/><ellipse cx="1600" cy="600" rx="3" ry="3" fill="#fff" fill-opacity="0.45"/><ellipse cx="1450" cy="600" rx="3" ry="3" fill="#fff" fill-opacity="0.4"/><ellipse cx="1400" cy="560" rx="3" ry="3" fill="#fff" fill-opacity="0.45"/><ellipse cx="1620" cy="420" rx="3" ry="3" fill="#fff" fill-opacity="0.4"/></g>
<g filter="url(#fBlob)"><ellipse cx="1408" cy="777" rx="16" ry="12" fill="#fff" fill-opacity="0.72"/>
<ellipse cx="1432" cy="792" rx="26" ry="18" fill="#fff" fill-opacity="0.74"/>
<ellipse cx="1462" cy="806" rx="28" ry="20" fill="#fff" fill-opacity="0.74"/>
<ellipse cx="1497" cy="820" rx="24" ry="19" fill="#fff" fill-opacity="0.74"/>
<ellipse cx="1527" cy="831" rx="30" ry="20" fill="#fff" fill-opacity="0.75"/>
<ellipse cx="1565" cy="829" rx="26" ry="16" fill="#fff" fill-opacity="0.73"/>
<ellipse cx="1588" cy="828" rx="13" ry="12" fill="#fff" fill-opacity="0.71"/>
<ellipse cx="1430" cy="787" rx="9" ry="9" fill="#fff" fill-opacity="0.97"/>
<ellipse cx="1448" cy="801" rx="13" ry="9" fill="#fff" fill-opacity="0.96"/>
<ellipse cx="1462" cy="812" rx="12" ry="10" fill="#fff" fill-opacity="0.96"/>
<ellipse cx="1478" cy="809" rx="10" ry="14" fill="#fff" fill-opacity="0.96"/>
<ellipse cx="1497" cy="822" rx="10" ry="11" fill="#fff" fill-opacity="0.95"/>
<ellipse cx="1522" cy="830" rx="26" ry="19" fill="#fff" fill-opacity="0.98"/>
<ellipse cx="1460" cy="799" rx="16" ry="8" fill="#fff" fill-opacity="0.92"/></g>
<g fill="none" stroke="#a8a8a8" stroke-width="1.1">
<ellipse cx="1550" cy="477" rx="168" ry="188"/>
<ellipse cx="1552" cy="477" rx="339.5" ry="380"/>
<line x1="1041" y1="469" x2="1383.2" y2="476.4"/>
<line x1="1720.8" y1="484" x2="2066" y2="491"/>
<line x1="1548.9" y1="665" x2="1542.4" y2="1041"/>
</g>
<g stroke="#ff0000" stroke-width="4.6" fill="#ff0000">
<line x1="1157.8" y1="655.8" x2="1152.6" y2="706"/>
<circle cx="1157.8" cy="655.8" r="6.0" stroke="none"/>
<line x1="1092.2" y1="732.2" x2="1124.8" y2="738.7"/>
<circle cx="1092.2" cy="732.2" r="6.0" stroke="none"/>
<line x1="1226" y1="771.4" x2="1222.7" y2="737.1"/>
<circle cx="1226" cy="771.4" r="6.0" stroke="none"/>
<line x1="1387.5" y1="802.3" x2="1425" y2="976.9"/>
<circle cx="1387.5" cy="802.3" r="6.0" stroke="none"/>
<line x1="1445.4" y1="857.6" x2="1587.4" y2="884.6"/>
<circle cx="1445.4" cy="857.6" r="6.0" stroke="none"/>
<line x1="1407.4" y1="889" x2="1552.7" y2="940.8"/>
<circle cx="1407.4" cy="889" r="6.0" stroke="none"/>
<line x1="1448.7" y1="888" x2="1532.9" y2="927.6"/>
<circle cx="1448.7" cy="888" r="6.0" stroke="none"/>
<line x1="1433.2" y1="926" x2="1530" y2="927"/>
<circle cx="1433.2" cy="926" r="6.0" stroke="none"/>
<line x1="1478.4" y1="915" x2="1554.4" y2="856.6"/>
<circle cx="1478.4" cy="915" r="6.0" stroke="none"/>
<line x1="1494.9" y1="924.3" x2="1544.5" y2="812"/>
<circle cx="1494.9" cy="924.3" r="6.0" stroke="none"/>
<line x1="1452" y1="975.5" x2="1524.6" y2="978.8"/>
<circle cx="1452" cy="975.5" r="6.0" stroke="none"/>
<line x1="1632" y1="892.9" x2="1635.3" y2="884.6"/>
<circle cx="1632" cy="892.9" r="6.0" stroke="none"/>
<line x1="1671.7" y1="840" x2="1678.3" y2="813.6"/>
<circle cx="1671.7" cy="840" r="6.0" stroke="none"/>
<line x1="1711.3" y1="861.5" x2="1680" y2="704.6"/>
<circle cx="1711.3" cy="861.5" r="6.0" stroke="none"/>
<line x1="1751" y1="906.1" x2="1693" y2="821.9"/>
<circle cx="1751" cy="906.1" r="6.0" stroke="none"/>
<line x1="1653" y1="687" x2="1593.2" y2="637.8"/>
<circle cx="1653" cy="687" r="6.0" stroke="none"/>
<line x1="1755.9" y1="957.3" x2="1732.8" y2="965.6"/>
<circle cx="1755.9" cy="957.3" r="6.0" stroke="none"/>
<line x1="1786" y1="668.2" x2="1769.3" y2="623"/>
<circle cx="1786" cy="668.2" r="6.0" stroke="none"/>
<line x1="1801.5" y1="700.3" x2="1785" y2="820.2"/>
<circle cx="1801.5" cy="700.3" r="6.0" stroke="none"/>
<line x1="1785" y1="820.2" x2="1827" y2="693"/>
<circle cx="1785" cy="820.2" r="6.0" stroke="none"/>
<line x1="1833.5" y1="724.4" x2="1861.6" y2="754.2"/>
<circle cx="1833.5" cy="724.4" r="6.0" stroke="none"/>
<line x1="1861.6" y1="754.2" x2="1853.4" y2="683"/>
<circle cx="1861.6" cy="754.2" r="6.0" stroke="none"/>
<line x1="1707.4" y1="380.3" x2="1697.3" y2="340.1"/>
<circle cx="1707.4" cy="380.3" r="6.0" stroke="none"/>
<line x1="1679" y1="392" x2="1668.9" y2="408.8"/>
<circle cx="1679" cy="392" r="6.0" stroke="none"/>
<line x1="1653.2" y1="433.2" x2="1642.1" y2="450.6"/>
<circle cx="1653.2" cy="433.2" r="6.0" stroke="none"/>
<circle cx="1628.7" cy="450.6" r="6.0" stroke="none"/>
<line x1="1554.5" y1="428.7" x2="1540.4" y2="424.5"/>
<circle cx="1554.5" cy="428.7" r="6.0" stroke="none"/>
<line x1="1735.8" y1="453.3" x2="1737.5" y2="405.4"/>
<circle cx="1735.8" cy="453.3" r="6.0" stroke="none"/>
<line x1="1809.5" y1="433.9" x2="1812.8" y2="398.7"/>
<circle cx="1809.5" cy="433.9" r="6.0" stroke="none"/>
<line x1="1787.7" y1="343.5" x2="1791.1" y2="382"/>
<circle cx="1787.7" cy="343.5" r="6.0" stroke="none"/>
<line x1="1801.1" y1="318" x2="1797" y2="312"/>
<circle cx="1801.1" cy="318" r="6.0" stroke="none"/>
<line x1="1893.2" y1="312" x2="1901.6" y2="340.1"/>
<line x1="1843" y1="457.3" x2="1827.9" y2="472.4"/>
<circle cx="1843" cy="457.3" r="6.0" stroke="none"/>
<line x1="1848" y1="316" x2="1850" y2="322"/>
<circle cx="1848" cy="316" r="6.0" stroke="none"/>
<circle cx="1542.5" cy="316" r="6.0" stroke="none"/>
<line x1="1623.7" y1="577.8" x2="1670.6" y2="554.4"/>
<circle cx="1623.7" cy="577.8" r="6.0" stroke="none"/>
<line x1="1695.7" y1="641.4" x2="1680.6" y2="579.5"/>
<circle cx="1695.7" cy="641.4" r="6.0" stroke="none"/>
<line x1="1758.3" y1="591.2" x2="1715.8" y2="585.2"/>
<circle cx="1758.3" cy="591.2" r="6.0" stroke="none"/>
<line x1="1802.8" y1="582.8" x2="1848" y2="576.2"/>
<circle cx="1802.8" cy="582.8" r="6.0" stroke="none"/>
<line x1="1749.2" y1="685" x2="1745" y2="690"/>
<circle cx="1749.2" cy="685" r="6.0" stroke="none"/>
<line x1="1958.5" y1="572.8" x2="1953" y2="572.5"/>
<circle cx="1958.5" cy="572.8" r="6.0" stroke="none"/>
</g>
</g>
<g stroke="#e8e8f0" stroke-width="1.3"><line x1="1023.3" y1="173" x2="1023.3" y2="188"/><line x1="2062.3" y1="398" x2="2062.3" y2="443"/><line x1="2062.3" y1="545" x2="2062.3" y2="570"/></g>
<g fill="#ff00ff">
<polygon points="512.8,282.2 548.0,228.3 553.5,250.0 669.9,227.6 678.7,272.5 563.5,295.8 566.7,318.0"/>
<polygon points="390.0,452.6 534.0,530.5 545.0,512.8 563.2,573.8 500.6,592.0 513.0,569.5 367.6,491.5"/>
<polygon points="628.7,531.0 712.1,326.8 692.9,317.2 748.8,294.9 771.4,350.1 752.2,343.7 667.6,546.6"/>
<polygon points="556.5,797.0 578.6,734.3 589.0,754.0 700.0,701.8 719.5,742.4 610.0,798.2 619.2,819.0"/>
<polygon points="710.8,1010.2 722.8,850.0 701.8,840.0 750.8,798.5 792.4,847.0 768.7,853.0 757.2,1013.3"/>
<polygon points="432.4,1039.3 600.6,1073.9 606.9,1053.5 643.3,1109.0 587.2,1146.0 591.3,1122.5 423.9,1084.9"/>
<polygon points="1450.3,928.3 1627.0,952.4 1630.4,944.1 1655.1,978.8 1618.8,1005.2 1622.1,987.0 1445.4,959.0"/>
<polygon points="1694.3,809.7 1757.5,393.5 1742.0,394.0 1774.0,345.0 1797.6,402.3 1784.3,401.2 1722.0,814.3"/>
<polygon points="1584.4,441.4 1598.8,461.0 1619.4,469.2 1644.2,465.1 1590.6,512.5"/>
</g>
<path d="M1770,398 C1764,360 1758,330 1738,314 C1722,302 1690,298 1672,318 C1658,336 1640,380 1628,408 C1620,428 1612,448 1606,464" fill="none" stroke="#ff00ff" stroke-width="20.5"/>
<linearGradient id="cb157_0"><stop offset="0" stop-color="rgb(0, 0, 255)"/><stop offset="1" stop-color="rgb(20, 20, 235)"/></linearGradient><rect x="157.20" y="578" width="14.82" height="14.600000000000023" fill="url(#cb157_0)"/><linearGradient id="cb157_1"><stop offset="0" stop-color="rgb(0, 90, 255)"/><stop offset="1" stop-color="rgb(0, 170, 255)"/></linearGradient><rect x="171.72" y="578" width="14.82" height="14.600000000000023" fill="url(#cb157_1)"/><linearGradient id="cb157_2"><stop offset="0" stop-color="rgb(0, 225, 255)"/><stop offset="1" stop-color="rgb(0, 255, 255)"/></linearGradient><rect x="186.24" y="578" width="14.82" height="14.600000000000023" fill="url(#cb157_2)"/><linearGradient id="cb157_3"><stop offset="0" stop-color="rgb(0, 255, 230)"/><stop offset="1" stop-color="rgb(0, 255, 200)"/></linearGradient><rect x="200.76" y="578" width="14.82" height="14.600000000000023" fill="url(#cb157_3)"/><linearGradient id="cb157_4"><stop offset="0" stop-color="rgb(0, 255, 150)"/><stop offset="1" stop-color="rgb(0, 255, 100)"/></linearGradient><rect x="215.28" y="578" width="14.82" height="14.600000000000023" fill="url(#cb157_4)"/><linearGradient id="cb157_5"><stop offset="0" stop-color="rgb(0, 245, 0)"/><stop offset="1" stop-color="rgb(60, 220, 0)"/></linearGradient><rect x="229.80" y="578" width="14.82" height="14.600000000000023" fill="url(#cb157_5)"/><linearGradient id="cb157_6"><stop offset="0" stop-color="rgb(170, 240, 0)"/><stop offset="1" stop-color="rgb(235, 255, 0)"/></linearGradient><rect x="244.32" y="578" width="14.82" height="14.600000000000023" fill="url(#cb157_6)"/><linearGradient id="cb157_7"><stop offset="0" stop-color="rgb(255, 255, 0)"/><stop offset="1" stop-color="rgb(250, 240, 0)"/></linearGradient><rect x="258.84" y="578" width="14.82" height="14.600000000000023" fill="url(#cb157_7)"/><linearGradient id="cb157_8"><stop offset="0" stop-color="rgb(255, 210, 0)"/><stop offset="1" stop-color="rgb(255, 140, 0)"/></linearGradient><rect x="273.36" y="578" width="14.82" height="14.600000000000023" fill="url(#cb157_8)"/><linearGradient id="cb157_9"><stop offset="0" stop-color="rgb(255, 40, 0)"/><stop offset="1" stop-color="rgb(240, 0, 0)"/></linearGradient><rect x="287.88" y="578" width="14.82" height="14.600000000000023" fill="url(#cb157_9)"/><line x1="171.72" y1="578" x2="171.72" y2="592.6" stroke="#222" stroke-width="1"/><line x1="186.24" y1="578" x2="186.24" y2="592.6" stroke="#222" stroke-width="1"/><line x1="200.76" y1="578" x2="200.76" y2="592.6" stroke="#222" stroke-width="1"/><line x1="215.28" y1="578" x2="215.28" y2="592.6" stroke="#222" stroke-width="1"/><line x1="229.80" y1="578" x2="229.80" y2="592.6" stroke="#222" stroke-width="1"/><line x1="244.32" y1="578" x2="244.32" y2="592.6" stroke="#222" stroke-width="1"/><line x1="258.84" y1="578" x2="258.84" y2="592.6" stroke="#222" stroke-width="1"/><line x1="273.36" y1="578" x2="273.36" y2="592.6" stroke="#222" stroke-width="1"/><line x1="287.88" y1="578" x2="287.88" y2="592.6" stroke="#222" stroke-width="1"/><rect x="157.2" y="578" width="145.2" height="14.600000000000023" fill="none" stroke="#222" stroke-width="1"/>
<linearGradient id="cb158_0"><stop offset="0" stop-color="rgb(0, 0, 255)"/><stop offset="1" stop-color="rgb(20, 20, 235)"/></linearGradient><rect x="158.20" y="1142" width="14.89" height="15.400000000000091" fill="url(#cb158_0)"/><linearGradient id="cb158_1"><stop offset="0" stop-color="rgb(0, 90, 255)"/><stop offset="1" stop-color="rgb(0, 170, 255)"/></linearGradient><rect x="172.79" y="1142" width="14.89" height="15.400000000000091" fill="url(#cb158_1)"/><linearGradient id="cb158_2"><stop offset="0" stop-color="rgb(0, 225, 255)"/><stop offset="1" stop-color="rgb(0, 255, 255)"/></linearGradient><rect x="187.38" y="1142" width="14.89" height="15.400000000000091" fill="url(#cb158_2)"/><linearGradient id="cb158_3"><stop offset="0" stop-color="rgb(0, 255, 230)"/><stop offset="1" stop-color="rgb(0, 255, 200)"/></linearGradient><rect x="201.97" y="1142" width="14.89" height="15.400000000000091" fill="url(#cb158_3)"/><linearGradient id="cb158_4"><stop offset="0" stop-color="rgb(0, 255, 150)"/><stop offset="1" stop-color="rgb(0, 255, 100)"/></linearGradient><rect x="216.56" y="1142" width="14.89" height="15.400000000000091" fill="url(#cb158_4)"/><linearGradient id="cb158_5"><stop offset="0" stop-color="rgb(0, 245, 0)"/><stop offset="1" stop-color="rgb(60, 220, 0)"/></linearGradient><rect x="231.15" y="1142" width="14.89" height="15.400000000000091" fill="url(#cb158_5)"/><linearGradient id="cb158_6"><stop offset="0" stop-color="rgb(170, 240, 0)"/><stop offset="1" stop-color="rgb(235, 255, 0)"/></linearGradient><rect x="245.74" y="1142" width="14.89" height="15.400000000000091" fill="url(#cb158_6)"/><linearGradient id="cb158_7"><stop offset="0" stop-color="rgb(255, 255, 0)"/><stop offset="1" stop-color="rgb(250, 240, 0)"/></linearGradient><rect x="260.33" y="1142" width="14.89" height="15.400000000000091" fill="url(#cb158_7)"/><linearGradient id="cb158_8"><stop offset="0" stop-color="rgb(255, 210, 0)"/><stop offset="1" stop-color="rgb(255, 140, 0)"/></linearGradient><rect x="274.92" y="1142" width="14.89" height="15.400000000000091" fill="url(#cb158_8)"/><linearGradient id="cb158_9"><stop offset="0" stop-color="rgb(255, 40, 0)"/><stop offset="1" stop-color="rgb(240, 0, 0)"/></linearGradient><rect x="289.51" y="1142" width="14.89" height="15.400000000000091" fill="url(#cb158_9)"/><line x1="172.79" y1="1142" x2="172.79" y2="1157.4" stroke="#222" stroke-width="1"/><line x1="187.38" y1="1142" x2="187.38" y2="1157.4" stroke="#222" stroke-width="1"/><line x1="201.97" y1="1142" x2="201.97" y2="1157.4" stroke="#222" stroke-width="1"/><line x1="216.56" y1="1142" x2="216.56" y2="1157.4" stroke="#222" stroke-width="1"/><line x1="231.15" y1="1142" x2="231.15" y2="1157.4" stroke="#222" stroke-width="1"/><line x1="245.74" y1="1142" x2="245.74" y2="1157.4" stroke="#222" stroke-width="1"/><line x1="260.33" y1="1142" x2="260.33" y2="1157.4" stroke="#222" stroke-width="1"/><line x1="274.92" y1="1142" x2="274.92" y2="1157.4" stroke="#222" stroke-width="1"/><line x1="289.51" y1="1142" x2="289.51" y2="1157.4" stroke="#222" stroke-width="1"/><rect x="158.2" y="1142" width="145.90000000000003" height="15.400000000000091" fill="none" stroke="#222" stroke-width="1"/>
<linearGradient id="cb1102_0"><stop offset="0" stop-color="rgb(0, 0, 255)"/><stop offset="1" stop-color="rgb(20, 20, 235)"/></linearGradient><rect x="1102.60" y="1017.5" width="16.32" height="17.09999999999991" fill="url(#cb1102_0)"/><linearGradient id="cb1102_1"><stop offset="0" stop-color="rgb(0, 90, 255)"/><stop offset="1" stop-color="rgb(0, 170, 255)"/></linearGradient><rect x="1118.62" y="1017.5" width="16.32" height="17.09999999999991" fill="url(#cb1102_1)"/><linearGradient id="cb1102_2"><stop offset="0" stop-color="rgb(0, 225, 255)"/><stop offset="1" stop-color="rgb(0, 255, 255)"/></linearGradient><rect x="1134.64" y="1017.5" width="16.32" height="17.09999999999991" fill="url(#cb1102_2)"/><linearGradient id="cb1102_3"><stop offset="0" stop-color="rgb(0, 255, 230)"/><stop offset="1" stop-color="rgb(0, 255, 200)"/></linearGradient><rect x="1150.66" y="1017.5" width="16.32" height="17.09999999999991" fill="url(#cb1102_3)"/><linearGradient id="cb1102_4"><stop offset="0" stop-color="rgb(0, 255, 150)"/><stop offset="1" stop-color="rgb(0, 255, 100)"/></linearGradient><rect x="1166.68" y="1017.5" width="16.32" height="17.09999999999991" fill="url(#cb1102_4)"/><linearGradient id="cb1102_5"><stop offset="0" stop-color="rgb(0, 245, 0)"/><stop offset="1" stop-color="rgb(60, 220, 0)"/></linearGradient><rect x="1182.70" y="1017.5" width="16.32" height="17.09999999999991" fill="url(#cb1102_5)"/><linearGradient id="cb1102_6"><stop offset="0" stop-color="rgb(170, 240, 0)"/><stop offset="1" stop-color="rgb(235, 255, 0)"/></linearGradient><rect x="1198.72" y="1017.5" width="16.32" height="17.09999999999991" fill="url(#cb1102_6)"/><linearGradient id="cb1102_7"><stop offset="0" stop-color="rgb(255, 255, 0)"/><stop offset="1" stop-color="rgb(250, 240, 0)"/></linearGradient><rect x="1214.74" y="1017.5" width="16.32" height="17.09999999999991" fill="url(#cb1102_7)"/><linearGradient id="cb1102_8"><stop offset="0" stop-color="rgb(255, 210, 0)"/><stop offset="1" stop-color="rgb(255, 140, 0)"/></linearGradient><rect x="1230.76" y="1017.5" width="16.32" height="17.09999999999991" fill="url(#cb1102_8)"/><linearGradient id="cb1102_9"><stop offset="0" stop-color="rgb(255, 40, 0)"/><stop offset="1" stop-color="rgb(240, 0, 0)"/></linearGradient><rect x="1246.78" y="1017.5" width="16.32" height="17.09999999999991" fill="url(#cb1102_9)"/><line x1="1118.62" y1="1017.5" x2="1118.62" y2="1034.6" stroke="#222" stroke-width="1"/><line x1="1134.64" y1="1017.5" x2="1134.64" y2="1034.6" stroke="#222" stroke-width="1"/><line x1="1150.66" y1="1017.5" x2="1150.66" y2="1034.6" stroke="#222" stroke-width="1"/><line x1="1166.68" y1="1017.5" x2="1166.68" y2="1034.6" stroke="#222" stroke-width="1"/><line x1="1182.70" y1="1017.5" x2="1182.70" y2="1034.6" stroke="#222" stroke-width="1"/><line x1="1198.72" y1="1017.5" x2="1198.72" y2="1034.6" stroke="#222" stroke-width="1"/><line x1="1214.74" y1="1017.5" x2="1214.74" y2="1034.6" stroke="#222" stroke-width="1"/><line x1="1230.76" y1="1017.5" x2="1230.76" y2="1034.6" stroke="#222" stroke-width="1"/><line x1="1246.78" y1="1017.5" x2="1246.78" y2="1034.6" stroke="#222" stroke-width="1"/><rect x="1102.6" y="1017.5" width="160.20000000000005" height="17.09999999999991" fill="none" stroke="#222" stroke-width="1"/>
<g font-family="Liberation Sans, Arial, sans-serif" fill="#222">
<text x="114.5" y="591.5" font-size="14.5" textLength="37.5" lengthAdjust="spacingAndGlyphs">FUV 1</text>
<text x="309.4" y="591.5" font-size="14.5" textLength="29" lengthAdjust="spacingAndGlyphs">2 kR</text>
<text x="114.5" y="1156" font-size="14.5" textLength="38" lengthAdjust="spacingAndGlyphs">FUV 1</text>
<text x="311.6" y="1156" font-size="14.5" textLength="28.7" lengthAdjust="spacingAndGlyphs">2 kR</text>
<text x="1055.4" y="1033.1" font-size="17.3" textLength="40.5" lengthAdjust="spacingAndGlyphs">FUV 1</text>
<text x="1271.6" y="1033.1" font-size="17.3" textLength="31.4" lengthAdjust="spacingAndGlyphs">2 kR</text>
<text x="769.8" y="582.2" font-size="21.2" textLength="21.0" lengthAdjust="spacingAndGlyphs">28</text>
<text x="801" y="582.2" font-size="21.2" textLength="33.3" lengthAdjust="spacingAndGlyphs">Jan</text>
<text x="846" y="582.2" font-size="21.2" textLength="41.3" lengthAdjust="spacingAndGlyphs">2002</text>
<text x="898.9" y="582.2" font-size="21.2" textLength="71.9" lengthAdjust="spacingAndGlyphs">09:26:00</text>
<text x="982.4" y="582.2" font-size="21.2" textLength="24.6" lengthAdjust="spacingAndGlyphs">UT</text>
<text x="767.5" y="1157.7" font-size="20.4" textLength="21.2" lengthAdjust="spacingAndGlyphs">28</text>
<text x="799.6" y="1157.7" font-size="20.4" textLength="31.4" lengthAdjust="spacingAndGlyphs">Jan</text>
<text x="843.1" y="1157.7" font-size="20.4" textLength="44.2" lengthAdjust="spacingAndGlyphs">2002</text>
<text x="900" y="1157.7" font-size="20.4" textLength="73.8" lengthAdjust="spacingAndGlyphs">10:00:00</text>
<text x="1787.5" y="1032.1" font-size="25.5" textLength="23.0" lengthAdjust="spacingAndGlyphs">28</text>
<text x="1822" y="1032.1" font-size="25.5" textLength="36.6" lengthAdjust="spacingAndGlyphs">Jan</text>
<text x="1871.4" y="1032.1" font-size="25.5" textLength="46.8" lengthAdjust="spacingAndGlyphs">2002</text>
<text x="1932.4" y="1032.1" font-size="25.5" textLength="77.9" lengthAdjust="spacingAndGlyphs">10:10:00</text>
<text x="2022.5" y="1032.1" font-size="25.5" textLength="27.8" lengthAdjust="spacingAndGlyphs">UT</text>
</g>
<g font-family="Liberation Sans, Arial, sans-serif" fill="#ff0000">
<text x="118" y="449.5" font-size="23" textLength="56.7" lengthAdjust="spacingAndGlyphs">10 nT</text>
<text x="134.8" y="1010.2" font-size="21.5" textLength="55.2" lengthAdjust="spacingAndGlyphs">10 nT</text>
<text x="1084" y="893.7" font-size="27" textLength="62" lengthAdjust="spacingAndGlyphs">10 nT</text>
</g>
<g stroke="#ff0000" stroke-width="4.2" fill="#ff0000">
<line x1="122.7" y1="464.5" x2="165.7" y2="464.5"/><circle cx="122.7" cy="464.5" r="5.2" stroke="none"/>
<line x1="139.2" y1="1025.7" x2="182.5" y2="1025.7"/><circle cx="139.2" cy="1025.7" r="5.2" stroke="none"/>
<line x1="1088.3" y1="910.7" x2="1136.2" y2="910.7"/><circle cx="1088.3" cy="910.7" r="5.7" stroke="none"/>
</g>
<g font-family="Liberation Sans, Arial, sans-serif" fill="#000">
<text x="0" y="70.5" font-size="64" textLength="72" lengthAdjust="spacingAndGlyphs">(a)</text>
<text x="326" y="41.5" font-size="55" textLength="478" lengthAdjust="spacingAndGlyphs">2002/1/28 9:26 UT</text>
<text x="235" y="103" font-size="55" textLength="656" lengthAdjust="spacingAndGlyphs">(Just after the TPA onset)</text>
<text x="0" y="659" font-size="64" textLength="75.5" lengthAdjust="spacingAndGlyphs">(b)</text>
<text x="334" y="642" font-size="55" textLength="503" lengthAdjust="spacingAndGlyphs">2002/1/28 10:00 UT</text>
<text x="1016" y="295" font-size="64" textLength="71" lengthAdjust="spacingAndGlyphs">(c)</text>
<text x="1305" y="288" font-size="55" textLength="493" lengthAdjust="spacingAndGlyphs">2002/1/28 10:10 UT</text>
</g>
</svg></body></html>
